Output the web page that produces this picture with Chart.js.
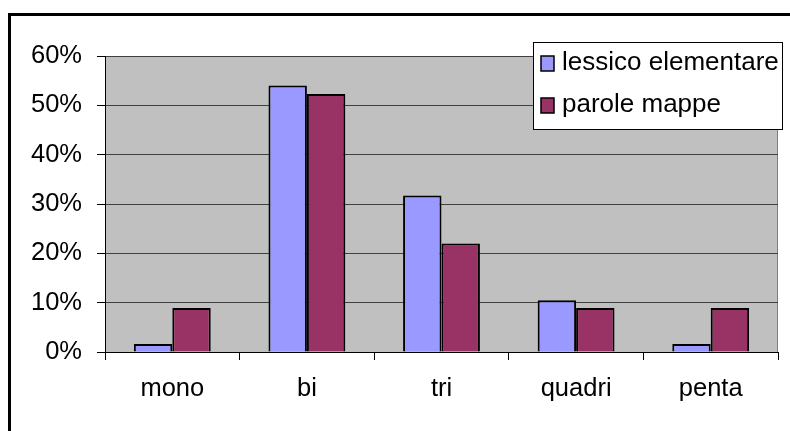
<!DOCTYPE html>
<html>
<head>
<meta charset="utf-8">
<script src="https://cdn.jsdelivr.net/npm/chart.js@4.4.0/dist/chart.umd.min.js"></script>
<style>
  html, body { margin: 0; padding: 0; background: #fff; }
  #wrap { width: 790px; height: 431px; position: relative; }
</style>
</head>
<body>
<div id="wrap"><canvas id="chart"></canvas></div>
<script>
const categories = ["mono", "bi", "tri", "quadri", "penta"];
const lessicoElementare = [1.6, 54.0, 31.7, 10.5, 1.6];
const paroleMappe = [8.9, 52.3, 22.0, 8.9, 8.9];
const seriesNames = ["lessico elementare", "parole mappe"];
const yTicks = [0, 10, 20, 30, 40, 50, 60];

const FONT = "'Liberation Sans', Arial, sans-serif";

// grey plot area + outer frame
const backdrop = {
  id: "backdrop",
  beforeDraw(chart) {
    const { ctx, chartArea: a } = chart;
    ctx.save();
    ctx.fillStyle = "#fff";
    ctx.fillRect(0, 0, chart.width, chart.height);
    ctx.strokeStyle = "#000";
    ctx.lineWidth = 3;
    ctx.strokeRect(9.5, 14.5, 900, 600);
    ctx.fillStyle = "#c0c0c0";
    ctx.fillRect(a.left, a.top, a.right - a.left, a.bottom - a.top);
    ctx.strokeStyle = "#808080";
    ctx.lineWidth = 1;
    ctx.strokeRect(a.left + 0.5, a.top + 0.5, a.right - a.left - 1, a.bottom - a.top);
    ctx.restore();
  },
};

// legend box drawn over the plot, like the original
const boxLegend = {
  id: "boxLegend",
  afterDraw(chart) {
    const { ctx } = chart;
    const x = 533, y = 42, w = 249, h = 87;
    ctx.save();
    ctx.fillStyle = "#fff";
    ctx.fillRect(x, y, w, h);
    ctx.strokeStyle = "#000";
    ctx.lineWidth = 1;
    ctx.strokeRect(x + 0.5, y + 0.5, w, h);
    ctx.font = "26px " + FONT;
    ctx.textBaseline = "alphabetic";
    chart.data.datasets.forEach((ds, i) => {
      const base = 70 + i * 42;
      ctx.fillStyle = ds.backgroundColor;
      ctx.fillRect(541, base - 14, 13, 15);
      ctx.strokeStyle = "#000";
      ctx.lineWidth = 1.5;
      ctx.strokeRect(541, base - 14, 13, 15);
      ctx.fillStyle = "#000";
      ctx.fillText(ds.label, 562, base);
    });
    ctx.restore();
  },
};

new Chart(document.getElementById("chart"), {
  type: "bar",
  data: {
    labels: categories,
    datasets: [
      {
        label: seriesNames[0],
        data: lessicoElementare,
        backgroundColor: "#9999ff",
        borderColor: "#000",
        borderWidth: 2,
      },
      {
        label: seriesNames[1],
        data: paroleMappe,
        backgroundColor: "#993366",
        borderColor: "#000",
        borderWidth: 2,
      },
    ],
  },
  options: {
    responsive: true,
    maintainAspectRatio: false,
    animation: false,
    layout: { padding: { top: 56, right: 12, left: 0, bottom: 0 } },
    datasets: { bar: { categoryPercentage: 0.571, barPercentage: 1.0 } },
    plugins: { legend: { display: false }, tooltip: { enabled: false } },
    scales: {
      x: {
        afterFit(s) { s.height = 79; },
        grid: { offset: true, drawOnChartArea: false, tickLength: 8, tickColor: "#000" },
        border: { color: "#000", width: 1 },
        ticks: { color: "#000", font: { family: FONT, size: 25.5 }, padding: 14 },
      },
      y: {
        min: 0,
        max: 60,
        afterFit(s) { s.width = 105; },
        afterBuildTicks(s) { s.ticks = yTicks.map((v) => ({ value: v })); },
        grid: { color: "#404040", tickLength: 8, tickColor: "#000" },
        border: { color: "#000", width: 1 },
        ticks: {
          color: "#000",
          font: { family: FONT, size: 25.5 },
          padding: 15,
          callback: (v) => v + "%",
        },
      },
    },
  },
  plugins: [backdrop, boxLegend],
});
</script>
</body>
</html>
